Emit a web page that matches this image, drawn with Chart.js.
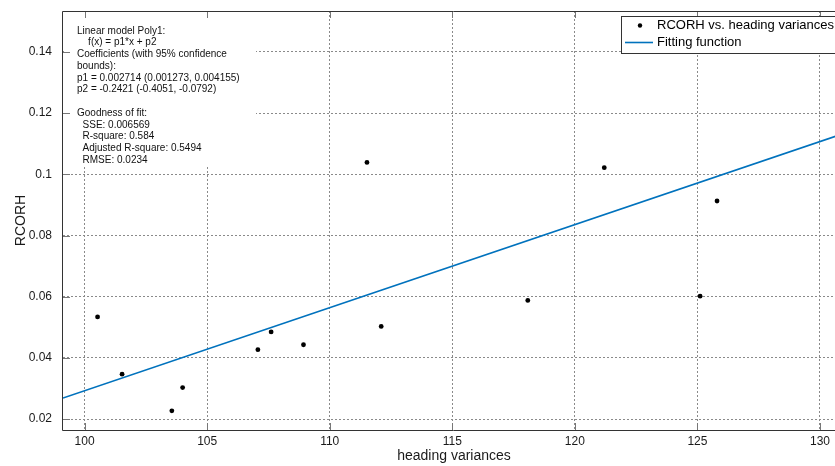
<!DOCTYPE html>
<html><head><meta charset="utf-8">
<script src="https://cdn.jsdelivr.net/npm/chart.js@4.4.0/dist/chart.umd.min.js"></script>
<style>
html,body{margin:0;padding:0;overflow:hidden;background:#fff;width:835px;height:466px}
#wrap{position:relative;width:855px;height:466px}
</style></head>
<body><div id="wrap"><canvas id="c" width="855" height="466"></canvas></div>
<script>
// ---- data ----
const xValues = [100.53, 101.53, 103.56, 104.0, 107.07, 107.61, 108.93, 111.52, 112.10, 118.08, 121.2, 125.11, 125.8];
const yValues = [0.0534, 0.0347, 0.0227, 0.0303, 0.0427, 0.0485, 0.0443, 0.1039, 0.0503, 0.0588, 0.1022, 0.0602, 0.0913];
const fitX = [99.12, 131.02];
const fitY = [0.0269, 0.1135];
const xTicks = [100, 105, 110, 115, 120, 125, 130];
const yTicks = [0.02, 0.04, 0.06, 0.08, 0.1, 0.12, 0.14];
const seriesLabels = ['RCORH vs. heading variances', 'Fitting function'];
const xTitle = 'heading variances';
const yTitle = 'RCORH';
const fitText = [
  'Linear model Poly1:',
  '    f(x) = p1*x + p2',
  'Coefficients (with 95% confidence',
  'bounds):',
  'p1 = 0.002714 (0.001273, 0.004155)',
  'p2 = -0.2421 (-0.4051, -0.0792)',
  '',
  'Goodness of fit:',
  '  SSE: 0.006569',
  '  R-square: 0.584',
  '  Adjusted R-square: 0.5494',
  '  RMSE: 0.0234'
];

const FONT = "'Liberation Sans', Arial, sans-serif";
const BLUE = '#0072BD';

const deco = {
  id: 'deco',
  beforeDatasetsDraw(chart) {
    const {ctx, chartArea: a} = chart;
    ctx.save();
    ctx.fillStyle = '#fff';
    ctx.fillRect(a.left + 1, a.top + 1, 192, 153);
    ctx.restore();
  },
  afterDatasetsDraw(chart) {
    const {ctx, chartArea: a, scales: {x, y}} = chart;
    ctx.save();
    // inward tick marks
    ctx.strokeStyle = '#777';
    ctx.lineWidth = 1;
    ctx.beginPath();
    xTicks.forEach(v => {
      const px = Math.round(x.getPixelForValue(v)) + 0.5;
      ctx.moveTo(px, a.bottom); ctx.lineTo(px, a.bottom - 7);
      ctx.moveTo(px, a.top); ctx.lineTo(px, a.top + 7);
    });
    yTicks.forEach(v => {
      const py = Math.round(y.getPixelForValue(v)) + 0.5;
      ctx.moveTo(a.left, py); ctx.lineTo(a.left + 7, py);
      ctx.moveTo(a.right, py); ctx.lineTo(a.right - 7, py);
    });
    ctx.stroke();
    // axes box
    ctx.strokeStyle = '#333';
    ctx.beginPath();
    ctx.rect(Math.round(a.left) - 0.5, Math.round(a.top) + 0.5, Math.round(a.right - a.left), Math.round(a.bottom - a.top));
    ctx.stroke();
    // fit annotation text
    ctx.fillStyle = '#111';
    ctx.font = '10px ' + FONT;
    ctx.textBaseline = 'middle';
    ctx.textAlign = 'left';
    fitText.forEach((t, i) => {
      if (t) ctx.fillText(t, a.left + 14, a.top + 20 + i * 11.72);
    });
    // legend
    const lx = 621, ly = 16, lw = 224, lh = 37;
    ctx.fillStyle = '#fff';
    ctx.fillRect(lx, ly, lw, lh);
    ctx.strokeStyle = '#333';
    ctx.strokeRect(lx + 0.5, ly + 0.5, lw, lh);
    const ds = chart.data.datasets;
    ctx.fillStyle = '#000';
    ctx.beginPath(); ctx.arc(640, 25.5, 2.2, 0, Math.PI * 2); ctx.fill();
    ctx.strokeStyle = ds[1].borderColor; ctx.lineWidth = 1.6;
    ctx.beginPath(); ctx.moveTo(625, 42.5); ctx.lineTo(653, 42.5); ctx.stroke();
    ctx.fillStyle = '#000';
    ctx.font = '13px ' + FONT;
    ctx.fillText(ds[0].label, 657, 25.5);
    ctx.fillText(ds[1].label, 657, 42.5);
    ctx.restore();
  }
};

new Chart(document.getElementById('c'), {
  type: 'scatter',
  data: {
    datasets: [
      {
        label: seriesLabels[0],
        data: xValues.map((v, i) => ({x: v, y: yValues[i]})),
        pointRadius: 2.4, pointBackgroundColor: '#000', pointBorderWidth: 0,
        showLine: false, order: 1
      },
      {
        type: 'line',
        label: seriesLabels[1],
        data: fitX.map((v, i) => ({x: v, y: fitY[i]})),
        borderColor: BLUE, borderWidth: 1.6, pointRadius: 0, fill: false, order: 2
      }
    ]
  },
  options: {
    responsive: false, animation: false, devicePixelRatio: 1,
    layout: {autoPadding: false, padding: {top: 11, right: 10, left: 0, bottom: 0}},
    plugins: {legend: {display: false}, tooltip: {enabled: false}},
    scales: {
      x: {
        type: 'linear', min: 99.12, max: 131.02,
        afterBuildTicks: s => { s.ticks = xTicks.map(v => ({value: v})); },
        afterFit: s => { s.height = 36; s.paddingLeft = 0; s.paddingRight = 0; },
        grid: {color: '#8a8a8a', lineWidth: 1, drawTicks: false},
        border: {display: false, dash: [2, 2]},
        ticks: {padding: 4, color: '#1a1a1a', font: {family: FONT, size: 12}, callback: v => String(v), maxRotation: 0},
        title: {display: true, text: xTitle, color: '#1a1a1a', font: {family: FONT, size: 14}, padding: {top: 0, bottom: 1.6}}
      },
      y: {
        type: 'linear', min: 0.01644, max: 0.1534,
        afterBuildTicks: s => { s.ticks = yTicks.map(v => ({value: v})); },
        afterFit: s => { s.width = 63; s.paddingTop = 0; s.paddingBottom = 0; },
        grid: {color: '#8a8a8a', lineWidth: 1, drawTicks: false},
        border: {display: false, dash: [2, 2]},
        ticks: {padding: 11, color: '#1a1a1a', font: {family: FONT, size: 12}, callback: v => String(v)},
        title: {display: true, text: yTitle, color: '#1a1a1a', font: {family: FONT, size: 14}, padding: {top: 12.6, bottom: 0}}
      }
    }
  },
  plugins: [deco]
});
</script>
</body></html>
